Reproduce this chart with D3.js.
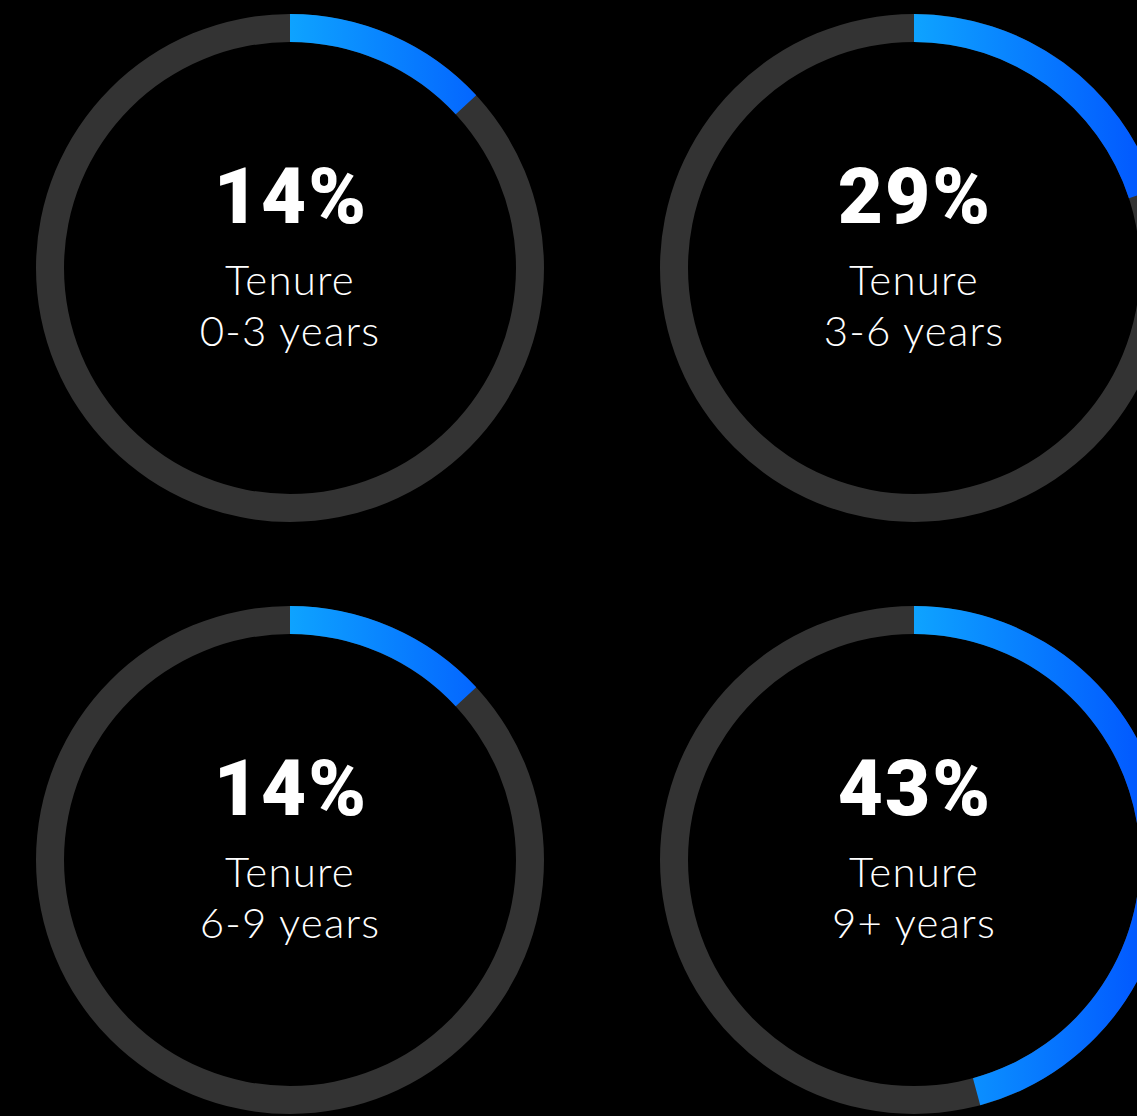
<!DOCTYPE html>
<head>
  <meta charset="utf-8">
  <script src="https://cdn.jsdelivr.net/npm/d3@7/dist/d3.min.js"></script>
  <style>
    body { margin:0; background-color: black; overflow: hidden; }
    .pct { font-family: 'Roboto', 'Lato', sans-serif; font-weight: 900; fill: #fff; }
    .lbl { font-family: 'Lato', 'Open Sans', sans-serif; font-weight: 300; fill: #fff; }
  </style>
</head>
<body>
<svg id="chart" width="1137" height="1116"></svg>
<script>
// percentage labels and the share of the ring that is filled
var labels = ["14%", "29%", "14%", "43%"];
var tenure = ["0-3 years", "3-6 years", "6-9 years", "9+ years"];
var filled = [0.131, 0.20, 0.131, 0.458];

var width = 1137, height = 1116;
var outerR = 254, innerR = 226;

var svg = d3.select("#chart");

// gradient runs left->right in each ring's own coordinates
var defs = svg.append("defs");
var grad = defs.append("linearGradient")
    .attr("id", "blueGrad")
    .attr("gradientUnits", "userSpaceOnUse")
    .attr("x1", 0).attr("x2", outerR)
    .attr("y1", 0).attr("y2", 0);
grad.append("stop").attr("offset", "0%").attr("stop-color", "#0ea3ff");
grad.append("stop").attr("offset", "100%").attr("stop-color", "#0050ff");

// 2x2 grid of ring centres
var col = d3.scalePoint().domain([0, 1]).range([290, 914]);
var row = d3.scalePoint().domain([0, 1]).range([268, 860]);

var arc = d3.arc().innerRadius(innerR).outerRadius(outerR);
var angle = d3.scaleLinear().domain([0, 1]).range([0, 2 * Math.PI]);

var rings = svg.selectAll(".ring")
    .data(labels)
  .enter().append("g")
    .attr("class", "ring")
    .attr("transform", function(d, i) {
      return "translate(" + col(i % 2) + "," + row(Math.floor(i / 2)) + ")";
    });

rings.append("path")
    .attr("d", arc({startAngle: 0, endAngle: 2 * Math.PI}))
    .style("fill", "#333333");

rings.append("path")
    .attr("d", function(d, i) { return arc({startAngle: 0, endAngle: angle(filled[i])}); })
    .style("fill", "url(#blueGrad)");

rings.append("text")
    .attr("class", "pct")
    .attr("x", 1)
    .attr("y", -45)
    .attr("text-anchor", "middle")
    .style("font-size", "78px")
    .style("letter-spacing", "2px")
    .text(function(d) { return d; });

rings.append("text")
    .attr("class", "lbl")
    .attr("y", 27)
    .attr("text-anchor", "middle")
    .style("font-size", "42px")
    .style("letter-spacing", "1.2px")
    .text("Tenure");

rings.append("text")
    .attr("class", "lbl")
    .attr("y", 78)
    .attr("text-anchor", "middle")
    .style("font-size", "42px")
    .style("letter-spacing", "1.2px")
    .text(function(d, i) { return tenure[i]; });
</script>
</body>
